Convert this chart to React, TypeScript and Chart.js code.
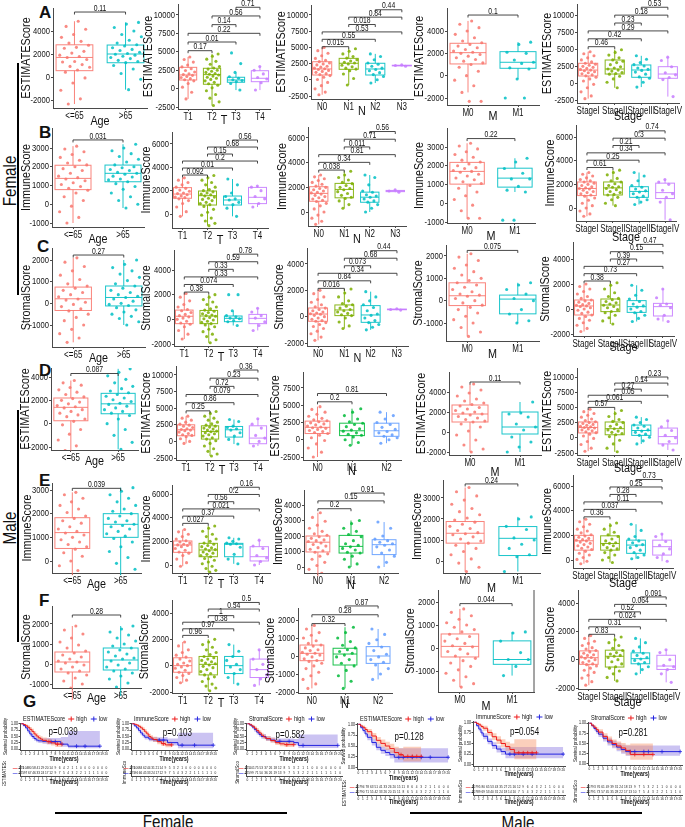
import React, { useEffect, useRef } from "react";
import { Chart, registerables } from "chart.js";

Chart.register(...registerables);

const FONT = "'Liberation Sans', Arial, sans-serif";
Chart.defaults.font.family = FONT;
const SX = 0.8; // horizontal text compression (narrow face look)
const INK = "#111111";
const AXIS = "#4a4a4a";

const RED = "#F8766D";
const TEAL = "#00BFC4";
const OLIVE = "#7CAE00";
const PURPLE = "#C77CFF";
const GREEN = "#00BA38";
const BLUE = "#619CFF";
const HI_C = "#EE1C1C";
const LO_C = "#2424E0";
const HI_BAND = "rgba(245,140,95,0.42)";
const LO_BAND = "rgba(118,96,222,0.38)";

// ---------------- categories / ticks ----------------
const AGE_CATS = ["<=65", ">65"];
const T_CATS = ["T1", "T2", "T3", "T4"];
const N4_CATS = ["N0", "N1", "N2", "N3"];
const N3_CATS = ["N0", "N1", "N2"];
const M_CATS = ["M0", "M1"];
const STAGE_CATS = ["StageI", "StageII", "StageIII", "StageIV"];

const PAIRS2 = [[0, 1]];
const PAIRS3 = [[0, 1], [0, 2], [1, 2]];
const PAIRS3D = [[0, 1], [0, 2]];
const PAIRS4 = [[0, 1], [0, 2], [0, 3], [1, 2], [1, 3], [2, 3]];

const TK_10K = [-2500, 0, 2500, 5000, 7500, 10000];
const TK_7500 = [-2500, 0, 2500, 5000, 7500];
const TK_4K = [-2000, 0, 2000, 4000];
const TK_3K = [-1000, 0, 1000, 2000, 3000];
const TK_6K = [0, 2000, 4000, 6000];
const TK_2K = [-1000, 0, 1000, 2000];
const TK_E3K = [0, 1000, 2000, 3000];
const TK_E4K = [0, 1000, 2000, 3000, 4000];
const TK_F2K = [-2000, -1000, 0, 1000, 2000];

// ---------------- Row A : Female ESTIMATEScore ----------------
const A_AGE = [
  [4850, 4400, 4150, 3700, 3450, 3100, 2950, 2760, 2580, 2500, 2230, 2080, 1900, 1780, 1690, 1520, 1350, 1300, 1080, 920, 850, 610, 420, -80, -520, -1150, -1900, -2350],
  [4750, 4600, 4300, 4000, 3700, 3500, 3200, 2950, 2800, 2700, 2550, 2400, 2300, 2150, 2050, 1980, 1900, 1800, 1700, 1600, 1450, 1350, 1250, 1000, 700, 300, -200, -1100],
];
const A_AGE_BOX = [[-2350, 550, 1700, 2800, 4850], [-1100, 1240, 2000, 2780, 4750]];
const A_AGE_P = ["0.11"];
const A_T = [
  [4300, 3950, 3600, 3200, 2950, 2700, 2450, 2250, 2000, 1900, 1800, 1650, 1500, 1350, 1200, 1050, 700, 200, -500, -1400],
  [4700, 4400, 4000, 3700, 3300, 3000, 2800, 2650, 2500, 2350, 2200, 2050, 1950, 1850, 1700, 1550, 1400, 1250, 1050, 850, 650, 450, 100, -300, -800, -1300, -1800, -2300],
  [4850, 3400, 2200, 1600, 1400, 1200, 1100, 950, 700, -200],
  [3000, 2500, 2000, 1500, 1300, 800, -200],
];
const A_T_BOX = [[-1400, 1170, 1850, 2890, 4300], [-2300, 590, 1900, 2760, 4700], [-200, 860, 1170, 1540, 2200], [-200, 940, 1400, 2430, 3000]];
const A_T_P = ["0.17", "0.01", "0.22", "0.14", "0.56", "0.71"];
const A_N = [
  [5000, 4500, 4100, 3700, 3300, 3000, 2800, 2600, 2450, 2300, 2100, 1950, 1800, 1700, 1600, 1450, 1300, 1150, 950, 800, 650, 400, 50, -400, -900, -1400, -1900, -2300],
  [4800, 4400, 4000, 3600, 3350, 3100, 2900, 2700, 2600, 2450, 2250, 2000, 1800, 1650, 1400, 900, 200, -800],
  [4000, 3600, 3100, 2600, 2400, 2100, 1800, 1600, 1400, 1100, 800, 500, 0, -500],
  [2300, 2200, 2100],
];
const A_N_BOX = [[-2300, 740, 1670, 2790, 5000], [-800, 1620, 2550, 3310, 4800], [-500, 740, 1670, 2550, 4000], [2100, 2150, 2200, 2250, 2300]];
const A_N_P = ["0.015", "0.55", "0.53", "0.018", "0.84", "0.44"];
const A_M = [
  [4900, 4600, 4300, 4000, 3700, 3400, 3100, 2950, 2800, 2650, 2500, 2350, 2200, 2100, 2000, 1900, 1750, 1600, 1450, 1300, 1150, 1000, 750, 400, 0, -400, -900, -1500, -2300, -2300],
  [3000, 2800, 2100, 2000, 1400, 1200, 1100, 700, 600, -300, -2000, -2000],
];
const A_M_BOX = [[-1500, 1050, 2060, 2900, 4900], [-300, 660, 1200, 2150, 3000]];
const A_M_P = ["0.1"];
const A_S = [
  [4600, 4300, 4000, 3700, 3400, 3100, 2900, 2750, 2600, 2450, 2300, 2150, 2000, 1900, 1800, 1650, 1500, 1350, 1200, 1050, 850, 600, 300, -200, -700, -1300, -1900, -2300],
  [4900, 4500, 4100, 3700, 3400, 3200, 3000, 2700, 2400, 2200, 2050, 1900, 1750, 1550, 1400, 1300, 1000, 600, 100, -700],
  [4000, 3500, 3000, 2700, 2500, 2200, 2000, 1850, 1600, 1300, 900, 700, 100, -600],
  [3800, 3300, 2400, 1500, 1200, 800, 500, -2000],
];
const A_S_BOX = [[-2300, 1030, 1900, 2900, 4600], [-700, 1320, 2060, 3380, 4900], [-600, 840, 1910, 2650, 4000], [-2000, 690, 1320, 2400, 3800]];
const A_S_P = ["0.46", "0.42", "0.29", "0.23", "0.18", "0.53"];

// ---------------- Row B : Female ImmuneScore ----------------
const B_AGE = [
  [3100, 2950, 2800, 2650, 2500, 2350, 2200, 2100, 2000, 1900, 1800, 1650, 1500, 1420, 1350, 1250, 1150, 1050, 950, 850, 750, 600, 400, 200, -100, -400, -700, -1000],
  [3200, 3000, 2850, 2700, 2550, 2400, 2250, 2100, 2000, 1950, 1850, 1800, 1700, 1650, 1600, 1500, 1450, 1350, 1300, 1200, 1100, 950, 800, 600, 400, 200, 0, -200],
];
const B_AGE_BOX = [[-1000, 780, 1380, 2080, 3100], [-200, 1200, 1650, 2090, 3200]];
const B_AGE_P = ["0.031"];
const B_T = [
  [3100, 2900, 2700, 2500, 2300, 2200, 2050, 1950, 1800, 1750, 1650, 1550, 1450, 1400, 1300, 1150, 900, 600, 200, -200],
  [3300, 3100, 2900, 2700, 2500, 2300, 2100, 2000, 1900, 1800, 1700, 1650, 1550, 1450, 1350, 1250, 1150, 1000, 900, 800, 650, 400, 150, -100, -350, -600, -800, -1000],
  [3000, 2500, 1800, 1500, 1300, 1200, 1000, 800, 500, -200],
  [2400, 2300, 2000, 1500, 1300, 900, 600],
];
const B_T_BOX = [[-200, 1350, 1710, 2260, 3100], [-1000, 770, 1570, 1970, 3300], [-200, 770, 1200, 1540, 3000], [600, 890, 1430, 2280, 2400]];
const B_T_P = ["0.092", "0.01", "0.2", "0.15", "0.68", "0.56"];
const B_N = [
  [3000, 2850, 2700, 2550, 2400, 2250, 2100, 2000, 1900, 1800, 1700, 1600, 1550, 1450, 1350, 1250, 1150, 1050, 950, 850, 700, 500, 250, 0, -250, -500, -750, -1000],
  [3300, 3000, 2800, 2600, 2400, 2300, 2150, 2000, 1900, 1800, 1650, 1500, 1350, 1200, 1100, 900, 600, 300],
  [3000, 2800, 2200, 1700, 1600, 1400, 1300, 1200, 1050, 900, 800, 600, 300, 0],
  [1800, 1700, 1600],
];
const B_N_BOX = [[-1000, 870, 1510, 2050, 3000], [300, 1150, 1830, 2320, 3300], [0, 790, 1200, 1610, 3000], [1600, 1650, 1700, 1750, 1800]];
const B_N_P = ["0.038", "0.34", "0.81", "0.011", "0.71", "0.56"];
const B_M = [
  [3200, 3050, 2900, 2750, 2600, 2450, 2300, 2200, 2100, 2000, 1900, 1850, 1750, 1700, 1650, 1550, 1450, 1350, 1250, 1150, 1050, 950, 800, 600, 400, 200, -100, -400, -800, -800],
  [2400, 2200, 1850, 1600, 1300, 1300, 900, 700, 600, -900, -900],
];
const B_M_BOX = [[-800, 1020, 1700, 2180, 3200], [600, 860, 1340, 1870, 2400]];
const B_M_P = ["0.22"];
const B_S = [
  [3000, 2850, 2700, 2550, 2400, 2300, 2200, 2100, 2000, 1900, 1800, 1700, 1650, 1600, 1500, 1400, 1300, 1200, 1100, 1000, 850, 650, 400, 200, 0, -250, -500, -700],
  [3200, 3000, 2800, 2500, 2300, 2200, 2050, 1900, 1800, 1750, 1650, 1550, 1400, 1300, 1150, 1100, 900, 700, 400, 200],
  [3000, 2700, 2300, 1900, 1750, 1600, 1450, 1350, 1200, 1000, 900, 700, 500, 300],
  [2400, 2200, 2000, 1500, 1200, 900, 500, -1000],
];
const B_S_BOX = [[-700, 1050, 1650, 2200, 3000], [200, 1100, 1700, 2200, 3200], [300, 900, 1400, 1800, 3000], [-1000, 800, 1300, 2100, 2400]];
const B_S_P = ["0.61", "0.25", "0.34", "0.21", "0.3", "0.74"];

// ---------------- Row C : Female StromalScore ----------------
const C_AGE = [
  [2100, 1900, 1700, 1500, 1300, 1100, 900, 800, 700, 600, 500, 400, 300, 200, 150, 50, -50, -150, -250, -350, -500, -650, -800, -1000, -1200, -1400, -1600, -1800],
  [2000, 1800, 1650, 1500, 1350, 1200, 1050, 900, 800, 700, 600, 500, 400, 330, 270, 200, 100, 0, -50, -100, -200, -300, -400, -500, -600, -700, -850, -1000],
];
const C_AGE_BOX = [[-1800, -330, 210, 750, 2100], [-1000, -120, 270, 800, 2000]];
const C_AGE_P = ["0.27"];
const C_T = [
  [2100, 1800, 1500, 1200, 1000, 800, 700, 550, 400, 300, 200, 100, 0, -150, -300, -400, -600, -900, -1200, -1600],
  [2000, 1800, 1600, 1400, 1200, 1000, 850, 750, 650, 550, 450, 350, 300, 250, 150, 50, -50, -150, -250, -350, -450, -600, -800, -1000, -1200, -1400, -1650, -1900],
  [2000, 2000, 700, 300, 200, 100, 50, -100, -200, -500],
  [900, 600, 300, 100, -200, -500, -900],
];
const C_T_BOX = [[-1600, -350, 250, 750, 2100], [-1900, -350, 270, 720, 2000], [-500, -190, 80, 270, 700], [-900, -350, 80, 400, 900]];
const C_T_P = ["0.38", "0.074", "0.33", "0.33", "0.59", "0.78"];
const C_N = [
  [2000, 1750, 1500, 1300, 1100, 900, 750, 650, 550, 450, 350, 280, 220, 180, 100, 0, -100, -200, -300, -350, -450, -600, -750, -900, -1100, -1300, -1550, -1800],
  [2100, 1800, 1500, 1200, 1000, 900, 800, 650, 550, 450, 350, 250, 150, 80, -100, -400, -700, -900],
  [1900, 1500, 1200, 900, 700, 450, 200, 100, -100, -300, -450, -600, -800, -1000],
  [600, 550, 500],
];
const C_N_BOX = [[-1800, -350, 200, 660, 2000], [-900, 80, 510, 890, 2100], [-1000, -430, 130, 840, 1900], [500, 525, 550, 575, 600]];
const C_N_P = ["0.016", "0.84", "0.34", "0.073", "0.68", "0.44"];
const C_M = [
  [2100, 1950, 1800, 1600, 1450, 1300, 1150, 1000, 900, 800, 700, 600, 500, 400, 300, 250, 200, 100, 0, -100, -200, -300, -400, -550, -700, -850, -1000, -1200, -1400, -1600],
  [800, 700, 500, 300, 100, 0, -400, -600, -900, -1000],
];
const C_M_BOX = [[-1600, -220, 220, 800, 2100], [-1000, -590, 70, 250, 800]];
const C_M_P = ["0.075"];
const C_S = [
  [2000, 1800, 1600, 1400, 1200, 1000, 850, 720, 650, 550, 450, 350, 300, 250, 200, 100, 0, -100, -250, -350, -480, -600, -750, -900, -1100, -1300, -1550, -1800],
  [2100, 1900, 1600, 1300, 1000, 850, 750, 600, 500, 400, 300, 200, 100, -50, -200, -300, -500, -700, -950, -1200],
  [1900, 1500, 1100, 800, 600, 400, 250, 150, 0, -200, -300, -500, -750, -1000],
  [1600, 900, 400, 300, 100, -500, -800, -1000],
];
const C_S_BOX = [[-1800, -480, 240, 720, 2000], [-1200, -210, 320, 800, 2100], [-1000, -270, 190, 670, 1900], [-1000, -560, 190, 450, 1600]];
const C_S_P = ["0.38", "0.73", "0.27", "0.39", "0.15", "0.47"];

// ---------------- Row D : Male ESTIMATEScore ----------------
const D_AGE = [
  [3700, 3500, 3300, 3100, 2900, 2700, 2500, 2300, 2150, 2000, 1850, 1700, 1550, 1450, 1350, 1200, 1050, 900, 750, 600, 400, 200, -100, -500, -900, -1400, -1900, -2300],
  [4700, 4400, 4100, 3800, 3500, 3200, 3000, 2800, 2650, 2500, 2350, 2200, 2050, 1900, 1750, 1650, 1500, 1350, 1200, 1050, 900, 700, 400, 0, -500, -1000, -1600, -2200],
];
const D_AGE_BOX = [[-2300, 250, 1400, 2200, 3700], [-2200, 850, 1700, 2600, 4700]];
const D_AGE_P = ["0.087"];
const D_T = [
  [3800, 3500, 3200, 2900, 2600, 2450, 2300, 2100, 1900, 1800, 1700, 1600, 1400, 1200, 1000, 900, 700, 400, 0, -300],
  [4500, 4200, 3800, 3500, 3200, 2900, 2650, 2450, 2300, 2150, 2000, 1850, 1700, 1550, 1450, 1300, 1150, 1000, 800, 550, 350, 100, -300, -700, -1100, -1500, -1900, -2200],
  [3300, 3000, 2300, 2100, 1900, 1700, 1300, 800, 300, -400],
  [3400, 2600, 2000, 900, 500, 0, -700],
];
const D_T_BOX = [[-300, 850, 1750, 2500, 3800], [-2200, 350, 1500, 2350, 4500], [-400, 650, 1750, 2250, 3300], [-700, -350, 500, 2350, 3400]];
const D_T_P = ["0.25", "0.86", "0.079", "0.72", "0.23", "0.36"];
const D_N = [
  [4800, 4400, 4000, 3700, 3400, 3100, 2900, 2750, 2600, 2450, 2300, 2150, 2000, 1850, 1750, 1650, 1500, 1350, 1200, 1050, 900, 650, 300, -100, -600, -1200, -1800, -2500],
  [4500, 4000, 3500, 3000, 2600, 2400, 2200, 1900, 1600, 1400, 1250, 1000, 800, 650, 400, 0, -400, -800],
  [4000, 3500, 3000, 2500, 2200, 1800, 1500, 1200, 1000, 700, 500, 300, 0, -500],
];
const D_N_BOX = [[-2500, 900, 1800, 2700, 4800], [-800, 600, 1300, 2400, 4500], [-500, 500, 1300, 2400, 4000]];
const D_N_P = ["0.2", "0.81"];
const D_M = [
  [4800, 4500, 4200, 3900, 3600, 3300, 3100, 2900, 2750, 2600, 2450, 2300, 2150, 2000, 1900, 1800, 1700, 1550, 1400, 1250, 1100, 1000, 800, 500, 100, -300, -800, -1300, -1700, -2000],
  [3000, 1900, 1800, 1500, 800, 500, 200, -500, -1000, -1500, -2000],
];
const D_M_BOX = [[-2000, 1000, 1800, 2700, 4800], [-2000, -200, 500, 2000, 3000]];
const D_M_P = ["0.11"];
const D_S = [
  [4700, 4300, 4000, 3700, 3400, 3100, 2850, 2650, 2500, 2350, 2200, 2050, 1900, 1800, 1700, 1600, 1450, 1300, 1150, 1000, 850, 600, 300, -100, -600, -1100, -1700, -2200],
  [4500, 4000, 3500, 3000, 2700, 2500, 2200, 1900, 1700, 1500, 1300, 1100, 900, 700, 500, 200, -400, -1000, -1700, -2300],
  [3400, 3000, 2500, 2100, 1900, 1600, 1300, 1100, 900, 600, 400, 100, -500, -1000],
  [2800, 1800, 1200, 400, 0, -600, -1200, -2000],
];
const D_S_BOX = [[-2200, 800, 1700, 2600, 4700], [-2300, 500, 1500, 2600, 4500], [-1000, 400, 1200, 2100, 3400], [-2000, -1000, 200, 1600, 2800]];
const D_S_P = ["0.57", "0.061", "0.05", "0.27", "0.14", "0.23"];

// ---------------- Row E : Male ImmuneScore ----------------
const E_AGE = [
  [2900, 2800, 2650, 2500, 2350, 2200, 2050, 1900, 1800, 1700, 1600, 1450, 1350, 1250, 1180, 1100, 1000, 900, 800, 700, 600, 500, 350, 200, 0, -200, -400, -600],
  [3100, 2950, 2800, 2650, 2500, 2350, 2200, 2100, 2000, 1900, 1800, 1700, 1650, 1550, 1500, 1450, 1350, 1250, 1150, 1050, 950, 800, 600, 400, 150, -100, -350, -600],
];
const E_AGE_BOX = [[-600, 530, 1200, 1830, 2900], [-600, 1000, 1550, 2000, 3100]];
const E_AGE_P = ["0.039"];
const E_T = [
  [3000, 2800, 2600, 2400, 2200, 2050, 1950, 1850, 1750, 1700, 1650, 1550, 1400, 1250, 1100, 1000, 800, 500, 200, -100],
  [3300, 3100, 2850, 2600, 2400, 2200, 2000, 1850, 1750, 1650, 1550, 1450, 1350, 1300, 1200, 1100, 1000, 900, 800, 700, 550, 400, 250, 100, -100, -300, -450, -600],
  [2300, 2200, 2000, 1850, 1800, 1750, 1500, 900, 500, 100],
  [2100, 1600, 1400, 800, 600, 300, 0],
];
const E_T_BOX = [[-100, 1070, 1690, 2030, 3000], [-600, 700, 1270, 1830, 3300], [100, 700, 1750, 1830, 2300], [0, 340, 700, 1550, 2100]];
const E_T_P = ["0.027", "0.37", "0.021", "0.56", "0.2", "0.16"];
const E_N = [
  [3500, 3200, 2950, 2700, 2500, 2300, 2150, 2050, 1950, 1850, 1750, 1700, 1650, 1550, 1450, 1350, 1250, 1150, 1050, 950, 850, 700, 500, 300, 100, -150, -400, -600],
  [3000, 2800, 2500, 2300, 2100, 1950, 1700, 1500, 1400, 1300, 1200, 1100, 950, 900, 700, 500, 200, 0],
  [2900, 2500, 2000, 1800, 1700, 1600, 1500, 1400, 1300, 1100, 900, 700, 300, 0],
];
const E_N_BOX = [[-600, 970, 1600, 2000, 3500], [0, 900, 1330, 2040, 3000], [0, 800, 1440, 1760, 2900]];
const E_N_P = ["0.2", "0.15", "0.91"];
const E_M = [
  [3500, 3300, 3100, 2900, 2700, 2500, 2350, 2200, 2050, 1950, 1850, 1750, 1650, 1550, 1450, 1350, 1300, 1250, 1150, 1050, 950, 850, 750, 600, 450, 300, 100, -100, -300, -500],
  [2100, 2000, 1650, 1500, 1100, 1000, 800, 600, 300, 200, -500],
];
const E_M_BOX = [[-500, 850, 1320, 1880, 3500], [-500, 260, 1080, 1640, 2100]];
const E_M_P = ["0.24"];
const E_S = [
  [3300, 3100, 2900, 2700, 2500, 2350, 2200, 2050, 1950, 1850, 1750, 1650, 1600, 1550, 1450, 1350, 1250, 1150, 1050, 950, 850, 700, 550, 400, 200, 50, -100, -300],
  [3000, 2800, 2500, 2250, 2050, 1900, 1700, 1550, 1400, 1350, 1250, 1150, 1000, 900, 800, 600, 400, 200, 0, -200],
  [2900, 2400, 1900, 1700, 1550, 1400, 1250, 1150, 1000, 800, 600, 400, 200, 100],
  [2100, 1900, 1500, 1200, 900, 500, 200, -100],
];
const E_S_BOX = [[-300, 800, 1560, 2000, 3300], [-200, 800, 1340, 1960, 3000], [100, 540, 1210, 1610, 2900], [-100, 400, 1080, 1610, 2100]];
const E_S_P = ["0.36", "0.037", "0.11", "0.28", "0.25", "0.73"];

// ---------------- Row F : Male StromalScore ----------------
const F_AGE = [
  [1900, 1700, 1500, 1300, 1100, 950, 800, 650, 550, 450, 350, 250, 150, 100, 50, -50, -150, -250, -350, -450, -550, -700, -850, -1000, -1200, -1400, -1600, -1800],
  [1900, 1750, 1600, 1450, 1300, 1150, 1000, 900, 800, 700, 600, 500, 400, 300, 250, 150, 50, -50, -150, -250, -350, -450, -600, -750, -950, -1150, -1400, -1600],
];
const F_AGE_BOX = [[-1800, -400, 100, 600, 1900], [-1600, -300, 200, 800, 1900]];
const F_AGE_P = ["0.28"];
const F_T = [
  [1800, 1500, 1200, 1000, 800, 650, 500, 350, 200, 100, 0, -100, -200, -350, -500, -600, -750, -900, -1100, -1300],
  [2000, 1800, 1600, 1400, 1200, 1000, 850, 700, 600, 500, 400, 300, 200, 150, 50, -50, -150, -300, -450, -600, -700, -850, -1000, -1200, -1400, -1550, -1700, -1900],
  [1600, 1100, 700, 400, 100, -100, -300, -600, -900, -1400],
  [1200, 500, 100, -300, -700, -1000, -1500],
];
const F_T_BOX = [[-1300, -500, 0, 600, 1800], [-1900, -700, 100, 700, 2000], [-1400, -600, 0, 700, 1600], [-1500, -900, -300, 500, 1200]];
const F_T_P = ["0.96", "0.97", "0.38", "1", "0.34", "0.5"];
const F_N = [
  [1700, 1500, 1300, 1150, 1000, 850, 700, 610, 550, 450, 350, 300, 200, 150, 100, 50, -50, -150, -250, -300, -400, -550, -700, -900, -1100, -1300, -1550, -1800],
  [1600, 1300, 1000, 800, 600, 450, 350, 250, 150, 50, -50, -200, -400, -550, -800, -1100, -1400, -1800],
  [1500, 1200, 900, 700, 500, 300, 100, -50, -200, -350, -500, -700, -1000, -1300],
];
const F_N_BOX = [[-1800, -260, 150, 610, 1700], [-1800, -500, 110, 430, 1600], [-1300, -410, 0, 520, 1500]];
const F_N_P = ["0.32", "0.28", "0.87"];
const F_M = [
  [1700, 1550, 1400, 1250, 1100, 1000, 900, 800, 700, 600, 500, 400, 300, 200, 100, 50, -50, -150, -250, -350, -450, -550, -650, -800, -950, -1100, -1250, -1400, -1550, -1700],
  [700, 650, 300, -200, -500, -500, -800, -1200],
];
const F_M_BOX = [[-1700, -390, 70, 610, 1700], [-1200, -710, -500, 310, 700]];
const F_M_P = ["0.044"];
const F_S = [
  [1700, 1500, 1300, 1150, 1000, 850, 750, 650, 550, 450, 350, 300, 200, 150, 100, 0, -100, -200, -300, -350, -450, -600, -750, -900, -1100, -1300, -1550, -1800],
  [1600, 1400, 1200, 1000, 800, 650, 500, 400, 300, 250, 150, 0, -150, -300, -500, -600, -800, -1000, -1250, -1500],
  [1500, 1200, 900, 600, 450, 300, 150, 50, -50, -200, -300, -500, -700, -1000],
  [700, 500, 0, -400, -500, -700, -1000, -1600],
];
const F_S_BOX = [[-1800, -330, 140, 620, 1700], [-1500, -520, 240, 670, 1600], [-1000, -290, 70, 480, 1500], [-1600, -690, -450, 310, 700]];
const F_S_P = ["0.83", "0.31", "0.024", "0.52", "0.064", "0.091"];

// ---------------- Survival (G) ----------------
const KM_F_EST_HIGH = { t: [0, 0.5, 1, 1.5, 2, 2.5, 3, 3.5, 4, 4.5, 5, 6, 7, 8, 9.6], s: [1, 0.97, 0.92, 0.86, 0.78, 0.7, 0.6, 0.52, 0.45, 0.4, 0.35, 0.3, 0.25, 0.2, 0.2], lo: [1, 0.93, 0.86, 0.78, 0.69, 0.6, 0.5, 0.42, 0.35, 0.3, 0.25, 0.2, 0.15, 0.09, 0.09], up: [1, 1, 0.98, 0.94, 0.87, 0.8, 0.71, 0.63, 0.56, 0.51, 0.46, 0.42, 0.38, 0.35, 0.35], cens: [6.5, 8.5, 9.6] };
const KM_F_EST_LOW = { t: [0, 0.5, 1, 1.5, 2, 2.5, 3, 3.5, 4, 5, 6, 9.3, 11, 18.5], s: [1, 0.93, 0.84, 0.72, 0.6, 0.5, 0.42, 0.36, 0.33, 0.31, 0.3, 0.2, 0.12, 0.12], lo: [1, 0.88, 0.77, 0.64, 0.51, 0.41, 0.33, 0.27, 0.24, 0.22, 0.2, 0.1, 0.04, 0.04], up: [1, 0.98, 0.92, 0.81, 0.7, 0.6, 0.53, 0.47, 0.45, 0.43, 0.44, 0.48, 0.72, 0.72], cens: [7, 8, 13, 15, 18.5] };
const KM_F_IMM_HIGH = { t: [0, 0.5, 1, 1.5, 2, 2.5, 3, 3.5, 4, 4.5, 5, 6, 7, 8, 9.5], s: [1, 0.98, 0.95, 0.9, 0.84, 0.77, 0.68, 0.6, 0.5, 0.44, 0.38, 0.3, 0.22, 0.17, 0.17], lo: [1, 0.95, 0.9, 0.83, 0.76, 0.68, 0.58, 0.5, 0.4, 0.34, 0.28, 0.2, 0.13, 0.08, 0.08], up: [1, 1, 0.99, 0.96, 0.92, 0.86, 0.78, 0.7, 0.61, 0.55, 0.49, 0.42, 0.35, 0.3, 0.3], cens: [7.5, 9.5] };
const KM_F_IMM_LOW = { t: [0, 0.5, 1, 1.5, 2, 2.5, 3, 4, 5, 6, 8, 8.5, 11, 19.5], s: [1, 0.92, 0.84, 0.74, 0.64, 0.55, 0.47, 0.4, 0.37, 0.36, 0.36, 0.26, 0.16, 0.16], lo: [1, 0.87, 0.77, 0.66, 0.55, 0.46, 0.38, 0.31, 0.28, 0.26, 0.25, 0.15, 0.04, 0.04], up: [1, 0.97, 0.91, 0.83, 0.74, 0.65, 0.57, 0.5, 0.48, 0.47, 0.48, 0.42, 0.65, 0.65], cens: [6.5, 7.5, 12, 15, 19.5] };
const KM_F_STR_HIGH = { t: [0, 0.5, 1, 1.5, 2, 2.5, 3, 3.5, 4, 5, 6, 7, 8, 10], s: [1, 0.96, 0.9, 0.82, 0.73, 0.64, 0.55, 0.48, 0.42, 0.34, 0.26, 0.21, 0.18, 0.18], lo: [1, 0.92, 0.84, 0.75, 0.65, 0.55, 0.46, 0.39, 0.33, 0.25, 0.17, 0.12, 0.09, 0.09], up: [1, 1, 0.96, 0.9, 0.82, 0.74, 0.65, 0.58, 0.52, 0.45, 0.37, 0.33, 0.3, 0.3], cens: [8.5, 10] };
const KM_F_STR_LOW = { t: [0, 0.5, 1, 1.5, 2, 2.5, 3, 4, 5, 6, 10, 11, 19.5], s: [1, 0.95, 0.87, 0.77, 0.67, 0.58, 0.5, 0.41, 0.36, 0.31, 0.26, 0.15, 0.15], lo: [1, 0.9, 0.8, 0.69, 0.58, 0.49, 0.41, 0.32, 0.27, 0.22, 0.16, 0.05, 0.05], up: [1, 1, 0.94, 0.85, 0.76, 0.68, 0.6, 0.51, 0.46, 0.42, 0.4, 0.58, 0.58], cens: [7, 9, 12, 19.5] };
const KM_M_EST_HIGH = { t: [0, 0.5, 1, 1.5, 2, 3, 4, 5, 6, 7, 8, 9, 10, 14], s: [1, 0.96, 0.93, 0.88, 0.83, 0.73, 0.63, 0.56, 0.5, 0.44, 0.35, 0.3, 0.26, 0.26], lo: [1, 0.93, 0.89, 0.83, 0.77, 0.66, 0.55, 0.47, 0.41, 0.34, 0.25, 0.19, 0.14, 0.14], up: [1, 0.99, 0.97, 0.93, 0.89, 0.8, 0.71, 0.65, 0.6, 0.55, 0.48, 0.45, 0.48, 0.48], cens: [9.5, 11, 12, 13, 14] };
const KM_M_EST_LOW = { t: [0, 0.5, 1, 1.5, 2, 3, 4, 5, 6, 7, 8, 20], s: [1, 0.93, 0.86, 0.78, 0.7, 0.58, 0.47, 0.4, 0.35, 0.3, 0.24, 0.24], lo: [1, 0.89, 0.81, 0.72, 0.63, 0.51, 0.4, 0.32, 0.27, 0.21, 0.12, 0.12], up: [1, 0.97, 0.91, 0.84, 0.77, 0.66, 0.55, 0.48, 0.44, 0.4, 0.45, 0.45], cens: [9, 10, 12, 14, 16, 20] };
const KM_M_IMM_HIGH = { t: [0, 0.5, 1, 1.5, 2, 3, 4, 5, 6, 7, 8, 9, 14], s: [1, 0.97, 0.94, 0.9, 0.86, 0.76, 0.66, 0.58, 0.5, 0.43, 0.36, 0.28, 0.28], lo: [1, 0.94, 0.9, 0.85, 0.8, 0.69, 0.58, 0.49, 0.41, 0.33, 0.25, 0.13, 0.13], up: [1, 1, 0.98, 0.95, 0.92, 0.83, 0.74, 0.67, 0.6, 0.54, 0.5, 0.6, 0.6], cens: [10, 11, 12, 13, 14] };
const KM_M_IMM_LOW = { t: [0, 0.5, 1, 1.5, 2, 3, 4, 5, 6, 7, 20], s: [1, 0.92, 0.84, 0.75, 0.67, 0.55, 0.45, 0.37, 0.31, 0.25, 0.25], lo: [1, 0.88, 0.79, 0.69, 0.6, 0.48, 0.37, 0.29, 0.23, 0.15, 0.15], up: [1, 0.96, 0.89, 0.81, 0.74, 0.62, 0.53, 0.45, 0.4, 0.42, 0.42], cens: [8, 9, 11, 13, 20] };
const KM_M_STR_HIGH = { t: [0, 0.5, 1, 1.5, 2, 3, 4, 5, 6, 7, 8, 9, 14], s: [1, 0.95, 0.9, 0.84, 0.78, 0.67, 0.58, 0.5, 0.44, 0.39, 0.33, 0.23, 0.23], lo: [1, 0.92, 0.85, 0.78, 0.71, 0.59, 0.49, 0.41, 0.34, 0.28, 0.21, 0.1, 0.1], up: [1, 0.98, 0.95, 0.9, 0.85, 0.75, 0.67, 0.6, 0.55, 0.51, 0.47, 0.5, 0.5], cens: [10, 12, 14] };
const KM_M_STR_LOW = { t: [0, 0.5, 1, 1.5, 2, 3, 4, 5, 6, 7, 8, 20], s: [1, 0.94, 0.87, 0.8, 0.73, 0.63, 0.54, 0.47, 0.41, 0.35, 0.3, 0.3], lo: [1, 0.9, 0.82, 0.74, 0.66, 0.55, 0.45, 0.38, 0.31, 0.25, 0.2, 0.2], up: [1, 0.98, 0.92, 0.86, 0.8, 0.71, 0.63, 0.57, 0.52, 0.47, 0.45, 0.45], cens: [9, 10, 12, 13, 16, 20] };

const RT_YEARS = [0, 1, 2, 3, 4, 5, 6, 7, 8, 9, 10, 11, 12, 13, 14, 15, 16, 17, 18, 19, 20];
const RT_F_EST_HIGH = [125, 104, 80, 58, 41, 29, 20, 14, 9, 6, 4, 2, 1, 1, 0, 0, 0, 0, 0, 0, 0];
const RT_F_EST_LOW = [125, 97, 67, 46, 33, 24, 17, 12, 9, 7, 5, 4, 3, 2, 2, 1, 1, 1, 1, 0, 0];
const RT_F_IMM_HIGH = [125, 106, 84, 62, 44, 31, 21, 14, 9, 5, 3, 2, 1, 0, 0, 0, 0, 0, 0, 0, 0];
const RT_F_IMM_LOW = [125, 96, 66, 45, 33, 24, 17, 12, 9, 7, 5, 4, 3, 2, 2, 1, 1, 1, 1, 1, 0];
const RT_F_STR_HIGH = [125, 101, 75, 53, 37, 26, 18, 12, 8, 5, 3, 2, 1, 1, 0, 0, 0, 0, 0, 0, 0];
const RT_F_STR_LOW = [125, 99, 71, 50, 36, 26, 19, 13, 9, 7, 5, 3, 2, 2, 1, 1, 1, 1, 1, 1, 0];
const RT_M_EST_HIGH = [107, 94, 78, 63, 51, 41, 33, 26, 20, 15, 11, 8, 6, 4, 3, 2, 1, 1, 0, 0, 0];
const RT_M_EST_LOW = [107, 90, 71, 55, 42, 33, 26, 20, 15, 11, 8, 6, 5, 4, 3, 2, 2, 1, 1, 1, 0];
const RT_M_IMM_HIGH = [107, 95, 80, 65, 53, 43, 35, 27, 21, 16, 12, 9, 6, 4, 3, 2, 1, 1, 0, 0, 0];
const RT_M_IMM_LOW = [107, 89, 69, 53, 40, 31, 24, 18, 14, 10, 7, 5, 4, 3, 2, 2, 1, 1, 1, 1, 0];
const RT_M_STR_HIGH = [107, 93, 76, 61, 49, 39, 31, 24, 18, 13, 9, 7, 5, 3, 2, 1, 1, 0, 0, 0, 0];
const RT_M_STR_LOW = [107, 91, 73, 57, 45, 35, 28, 22, 17, 13, 10, 7, 5, 4, 3, 2, 2, 1, 1, 1, 0];

// ---------------- panel layout (page px) ----------------
const C4 = [RED, OLIVE, TEAL, PURPLE];
const C2 = [RED, TEAL];
const CN3 = [RED, GREEN, BLUE];

const PANELS: any[] = [
  // Row A
  { geo: [53, 147, 8, 108], cal: [4000, 31, -2000, 100], ticks: TK_4K, cats: AGE_CATS, colors: C2, pts: A_AGE, box: A_AGE_BOX, pairs: PAIRS2, p: A_AGE_P, br: [5650, 0], yTitle: "ESTIMATEScore", xTitle: "Age", tc: 26, xt: 121 },
  { geo: [178, 270, 4, 109], cal: [10000, 15, -2500, 107], ticks: TK_10K, cats: T_CATS, colors: C4, pts: A_T, box: A_T_BOX, pairs: PAIRS4, p: A_T_P, br: [5150, 1180], yTitle: "ESTIMATEScore", xTitle: "T", tc: 148, xt: 120 },
  { geo: [311, 413, 5, 99], cal: [10000, 15, -2500, 96], ticks: TK_10K, cats: N4_CATS, colors: C4, pts: A_N, box: A_N_BOX, pairs: PAIRS4, p: A_N_P, br: [5110, 1140], yTitle: "ESTIMATEScore", xTitle: "N", tc: 281, xt: 111 },
  { geo: [447, 539, 8, 105], cal: [4000, 31, -2000, 98], ticks: TK_4K, cats: M_CATS, colors: C2, pts: A_M, box: A_M_BOX, pairs: PAIRS2, p: A_M_P, br: [5430, 0], yTitle: "ESTIMATEScore", xTitle: "M", tc: 419, xt: 116 },
  { geo: [577, 679, 4, 103], cal: [10000, 15, -2500, 100], ticks: TK_10K, cats: STAGE_CATS, colors: C4, pts: A_S, box: A_S_BOX, pairs: PAIRS4, p: A_S_P, br: [5340, 1160], yTitle: "ESTIMATEScore", xTitle: "Stage", tc: 547, xt: 116 },
  // Row B
  { geo: [52, 144, 128, 227], cal: [3000, 148, -1000, 223], ticks: TK_3K, cats: AGE_CATS, colors: C2, pts: B_AGE, box: B_AGE_BOX, pairs: PAIRS2, p: B_AGE_P, br: [3430, 0], yTitle: "ImmuneScore", xTitle: "Age", tc: 26, xt: 239 },
  { geo: [172, 268, 132, 228], cal: [6000, 144, 0, 214], ticks: TK_6K, cats: T_CATS, colors: C4, pts: B_T, box: B_T_BOX, pairs: PAIRS4, p: B_T_P, br: [3340, 600], yTitle: "ImmuneScore", xTitle: "T", tc: 146, xt: 240 },
  { geo: [308, 406, 127, 226], cal: [6000, 138, 0, 212], ticks: TK_6K, cats: N4_CATS, colors: C4, pts: B_N, box: B_N_BOX, pairs: PAIRS4, p: B_N_P, br: [3400, 625], yTitle: "ImmuneScore", xTitle: "N", tc: 282, xt: 239 },
  { geo: [447, 535, 128, 223], cal: [3000, 147, -1000, 222], ticks: TK_3K, cats: M_CATS, colors: C2, pts: B_M, box: B_M_BOX, pairs: PAIRS2, p: B_M_P, br: [3450, 0], yTitle: "ImmuneScore", xTitle: "M", tc: 419, xt: 236 },
  { geo: [576, 676, 125, 221], cal: [6000, 137, 0, 208], ticks: TK_6K, cats: STAGE_CATS, colors: C4, pts: B_S, box: B_S_BOX, pairs: PAIRS4, p: B_S_P, br: [3420, 620], yTitle: "ImmuneScore", xTitle: "Stage", tc: 550, xt: 237 },
  // Row C
  { geo: [52, 145, 248, 347], cal: [2000, 260, -1000, 325], ticks: TK_2K, cats: AGE_CATS, colors: C2, pts: C_AGE, box: C_AGE_BOX, pairs: PAIRS2, p: C_AGE_P, br: [2230, 0], yTitle: "StromalScore", xTitle: "Age", tc: 26, xt: 358 },
  { geo: [174, 268, 250, 346], cal: [4000, 270, -2000, 344], ticks: TK_4K, cats: T_CATS, colors: C4, pts: C_T, box: C_T_BOX, pairs: PAIRS4, p: C_T_P, br: [2210, 615], yTitle: "StromalScore", xTitle: "T", tc: 146, xt: 357 },
  { geo: [307, 408, 248, 346], cal: [4000, 264, -2000, 343], ticks: TK_4K, cats: N4_CATS, colors: C4, pts: C_N, box: C_N_BOX, pairs: PAIRS4, p: C_N_P, br: [2150, 572], yTitle: "StromalScore", xTitle: "N", tc: 279, xt: 358 },
  { geo: [446, 539, 245, 341], cal: [2000, 256, -1000, 323], ticks: TK_2K, cats: M_CATS, colors: C2, pts: C_M, box: C_M_BOX, pairs: PAIRS2, p: C_M_P, br: [2250, 0], yTitle: "StromalScore", xTitle: "M", tc: 418, xt: 354 },
  { geo: [573, 674, 242, 336], cal: [4000, 259, -2000, 334], ticks: TK_4K, cats: STAGE_CATS, colors: C4, pts: C_S, box: C_S_BOX, pairs: PAIRS4, p: C_S_P, br: [2240, 586], yTitle: "StromalScore", xTitle: "Stage", tc: 545, xt: 347 },
  // Row D
  { geo: [51, 138, 368, 450], cal: [4000, 377, -2000, 447], ticks: TK_4K, cats: AGE_CATS, colors: C2, pts: D_AGE, box: D_AGE_BOX, pairs: PAIRS2, p: D_AGE_P, br: [4300, 0], yTitle: "ESTIMATEScore", xTitle: "Age", tc: 25, xt: 461 },
  { geo: [176, 268, 366, 460], cal: [10000, 375, -2500, 458], ticks: TK_10K, cats: T_CATS, colors: C4, pts: D_T, box: D_T_BOX, pairs: PAIRS4, p: D_T_P, br: [4600, 1230], yTitle: "ESTIMATEScore", xTitle: "T", tc: 146, xt: 470 },
  { geo: [303, 401, 372, 460], cal: [7500, 388, -2500, 457], ticks: TK_7500, cats: N3_CATS, colors: CN3, pts: D_N, box: D_N_BOX, pairs: PAIRS3D, p: D_N_P, br: [5500, 1200], yTitle: "ESTIMATEScore", xTitle: "N", tc: 275, xt: 471 },
  { geo: [449, 541, 372, 455], cal: [4000, 392, -2000, 452], ticks: TK_4K, cats: M_CATS, colors: C2, pts: D_M, box: D_M_BOX, pairs: PAIRS2, p: D_M_P, br: [5000, 0], yTitle: "ESTIMATEScore", xTitle: "M", tc: 421, xt: 472 },
  { geo: [577, 679, 368, 455], cal: [10000, 377, -2500, 453], ticks: TK_10K, cats: STAGE_CATS, colors: C4, pts: D_S, box: D_S_BOX, pairs: PAIRS4, p: D_S_P, br: [5000, 1000], yTitle: "ESTIMATEScore", xTitle: "Stage", tc: 547, xt: 468 },
  // Row E
  { geo: [52, 141, 483, 573], cal: [3000, 490, 0, 561], ticks: TK_E3K, cats: AGE_CATS, colors: C2, pts: E_AGE, box: E_AGE_BOX, pairs: PAIRS2, p: E_AGE_P, br: [3070, 0], yTitle: "ImmuneScore", xTitle: "Age", tc: 27, xt: 584 },
  { geo: [172, 270, 485, 573], cal: [6000, 494, 0, 565], ticks: TK_6K, cats: T_CATS, colors: C4, pts: E_T, box: E_T_BOX, pairs: PAIRS4, p: E_T_P, br: [3520, 610], yTitle: "ImmuneScore", xTitle: "T", tc: 146, xt: 584 },
  { geo: [304, 398, 490, 573], cal: [4000, 505, 0, 567], ticks: TK_E4K, cats: N3_CATS, colors: CN3, pts: E_N, box: E_N_BOX, pairs: PAIRS3, p: E_N_P, br: [3760, 505], yTitle: "ImmuneScore", xTitle: "N", tc: 278, xt: 585 },
  { geo: [443, 540, 480, 573], cal: [3000, 498, 0, 561], ticks: TK_E3K, cats: M_CATS, colors: C2, pts: E_M, box: E_M_BOX, pairs: PAIRS2, p: E_M_P, br: [3670, 0], yTitle: "ImmuneScore", xTitle: "M", tc: 417, xt: 588 },
  { geo: [573, 673, 475, 568], cal: [6000, 486, 0, 560], ticks: TK_6K, cats: STAGE_CATS, colors: C4, pts: E_S, box: E_S_BOX, pairs: PAIRS4, p: E_S_P, br: [3500, 605], yTitle: "ImmuneScore", xTitle: "Stage", tc: 547, xt: 583 },
  // Row F
  { geo: [52, 141, 606, 688], cal: [2000, 624, -1000, 684], ticks: TK_2K, cats: AGE_CATS, colors: C2, pts: F_AGE, box: F_AGE_BOX, pairs: PAIRS2, p: F_AGE_P, br: [2450, 0], yTitle: "StromalScore", xTitle: "Age", tc: 26, xt: 698 },
  { geo: [172, 270, 600, 693], cal: [4000, 613, -2000, 692], ticks: TK_4K, cats: T_CATS, colors: C4, pts: F_T, box: F_T_BOX, pairs: PAIRS4, p: F_T_P, br: [2300, 500], yTitle: "StromalScore", xTitle: "T", tc: 144, xt: 703 },
  { geo: [298, 392, 608, 693], cal: [2000, 620, -2000, 692], ticks: TK_F2K, cats: N3_CATS, colors: CN3, pts: F_N, box: F_N_BOX, pairs: PAIRS3, p: F_N_P, br: [1800, 490], yTitle: "StromalScore", xTitle: "N", tc: 270, xt: 704 },
  { geo: [438, 534, 590, 692], cal: [2000, 602, -1000, 671], ticks: TK_2K, cats: M_CATS, colors: C2, pts: F_M, box: F_M_BOX, pairs: PAIRS2, p: F_M_P, br: [1930, 0], yTitle: "StromalScore", xTitle: "M", tc: 410, xt: 706, frame: true },
  { geo: [578, 677, 590, 689], cal: [4000, 603, -2000, 688], ticks: TK_4K, cats: STAGE_CATS, colors: C4, pts: F_S, box: F_S_BOX, pairs: PAIRS4, p: F_S_P, br: [1790, 528], yTitle: "StromalScore", xTitle: "Stage", tc: 550, xt: 702 },
];

const KM_PANELS: any[] = [
  { name: "ESTIMATEScore", p: "0.039", hi: KM_F_EST_HIGH, lo: KM_F_EST_LOW, rh: RT_F_EST_HIGH, rl: RT_F_EST_LOW, geo: [20, 108, 723, 750], rgeo: [20, 108, 765, 776], tc: 5, rtc: 4, xt: 759, rxt: 782, pp: [0.49, 0.33] },
  { name: "ImmuneScore", p: "0.103", hi: KM_F_IMM_HIGH, lo: KM_F_IMM_LOW, rh: RT_F_IMM_HIGH, rl: RT_F_IMM_LOW, geo: [131, 217, 723, 750], rgeo: [131, 217, 765, 776], tc: 118, rtc: 124, xt: 759, rxt: 782, pp: [0.54, 0.37] },
  { name: "StromalScore", p: "0.582", hi: KM_F_STR_HIGH, lo: KM_F_STR_LOW, rh: RT_F_STR_HIGH, rl: RT_F_STR_LOW, geo: [246, 342, 723, 750], rgeo: [246, 342, 765, 776], tc: 235, rtc: 237, xt: 759, rxt: 782, pp: [0.46, 0.44] },
  { name: "ESTIMATEScore", p: "0.128", hi: KM_M_EST_HIGH, lo: KM_M_EST_LOW, rh: RT_M_EST_HIGH, rl: RT_M_EST_LOW, geo: [357, 450, 723, 769], rgeo: [357, 450, 784, 795], tc: 343, rtc: 344, xt: 778, rxt: 802, pp: [0.56, 0.3] },
  { name: "ImmuneScore", p: "0.054", hi: KM_M_IMM_HIGH, lo: KM_M_IMM_LOW, rh: RT_M_IMM_HIGH, rl: RT_M_IMM_LOW, geo: [473, 565, 721, 766], rgeo: [473, 565, 784, 795], tc: 460, rtc: 460, xt: 774, rxt: 802, pp: [0.56, 0.24] },
  { name: "StromalScore", p: "0.281", hi: KM_M_STR_HIGH, lo: KM_M_STR_LOW, rh: RT_M_STR_HIGH, rl: RT_M_STR_LOW, geo: [588, 682, 722, 765], rgeo: [588, 682, 784, 795], tc: 575, rtc: 575, xt: 774, rxt: 802, pp: [0.48, 0.25] },
];

// ---------------- helpers ----------------
const BOX_W = 0.72;
const jit = (g: number, i: number) => {
  const f = ((i + 1) * 0.618034 + g * 0.291) % 1;
  return (f - 0.5) * 0.62;
};
const withAlpha = (hex: string, a: number) => {
  const n = parseInt(hex.slice(1), 16);
  return `rgba(${(n >> 16) & 255},${(n >> 8) & 255},${n & 255},${a})`;
};
const fixBox = (w?: number, h?: number) => (s: any) => {
  if (w !== undefined) s.width = w;
  if (h !== undefined) s.height = h;
  s.paddingLeft = 0;
  s.paddingRight = 0;
  s.paddingTop = 0;
  s.paddingBottom = 0;
};
const axisStyle = (tickLen: number) => ({
  grid: { display: true, drawOnChartArea: false, drawTicks: true, tickLength: tickLen, color: AXIS, lineWidth: 1 },
  border: { display: true, color: AXIS, width: 1 },
});

// Narrow-face look: compress text horizontally along its baseline
function narrowText(canvas: HTMLCanvasElement) {
  const ctx: any = canvas.getContext("2d");
  if (!ctx || ctx.__narrow) return;
  ctx.__narrow = true;
  const ft = ctx.fillText.bind(ctx);
  const mt = ctx.measureText.bind(ctx);
  ctx.fillText = (t: string, x: number, y: number, mw?: number) => {
    ctx.save();
    ctx.translate(x, y);
    ctx.scale(SX, 1);
    if (mw === undefined) ft(t, 0, 0);
    else ft(t, 0, 0, mw / SX);
    ctx.restore();
  };
  ctx.measureText = (t: string) => {
    const m = mt(t);
    return {
      width: m.width * SX,
      actualBoundingBoxAscent: m.actualBoundingBoxAscent,
      actualBoundingBoxDescent: m.actualBoundingBoxDescent,
      actualBoundingBoxLeft: m.actualBoundingBoxLeft * SX,
      actualBoundingBoxRight: m.actualBoundingBoxRight * SX,
      fontBoundingBoxAscent: m.fontBoundingBoxAscent,
      fontBoundingBoxDescent: m.fontBoundingBoxDescent,
    };
  };
}

const PAD_L = 6;
const PAD_R = 12;
const PAD_T = 10;
const YT = 13.5; // y/x title font size
const YT_HALF = (YT * 1.2) / 2;

function boxSpec(p: any) {
  const [L, R, T, B] = p.geo;
  const x = Math.round(p.tc - YT_HALF - PAD_L);
  const yW = L - PAD_L - x;
  const xH = Math.round(p.xt - B + YT_HALF);
  const y = T - PAD_T;
  const w = R - x + PAD_R;
  const h = PAD_T + (B - T) + xH;
  return { x, y, w, h, build: (c: HTMLCanvasElement) => boxChart(c, p, yW, xH) };
}

function boxChart(canvas: HTMLCanvasElement, p: any, yW: number, xH: number) {
  narrowText(canvas);
  const n = p.cats.length;
  const [L, R, T, B] = p.geo;
  const [v1, p1, v2, p2] = p.cal;
  const per = (v1 - v2) / (p2 - p1);
  const yMax = v1 + (p1 - T) * per;
  const yMin = v2 - (B - p2) * per;
  const datasets = p.pts.map((arr: number[], gi: number) => ({
    data: arr.map((v, i) => ({ x: gi + 1 + jit(gi, i), y: v })),
    backgroundColor: withAlpha(p.colors[gi], 0.85),
    borderWidth: 0,
    pointRadius: 1.55,
    pointHoverRadius: 1.55,
  }));
  const overlay = {
    id: "boxOverlay",
    beforeDatasetsDraw(chart: any) {
      const { ctx } = chart;
      const xs = chart.scales.x;
      const ys = chart.scales.y;
      ctx.save();
      p.box.forEach((b: number[], gi: number) => {
        const [lo, q1, md, q3, hi] = b;
        const xc = xs.getPixelForValue(gi + 1);
        const hw = (xs.getPixelForValue(gi + 1 + BOX_W / 2) - xs.getPixelForValue(gi + 1 - BOX_W / 2)) / 2;
        const yq1 = ys.getPixelForValue(q1);
        const yq3 = ys.getPixelForValue(q3);
        ctx.strokeStyle = withAlpha(p.colors[gi], 0.9);
        ctx.lineWidth = 1;
        ctx.fillStyle = "#ffffff";
        ctx.fillRect(xc - hw, yq3, 2 * hw, yq1 - yq3);
        ctx.strokeRect(xc - hw, yq3, 2 * hw, yq1 - yq3);
        ctx.beginPath();
        ctx.moveTo(xc, ys.getPixelForValue(hi));
        ctx.lineTo(xc, yq3);
        ctx.moveTo(xc, yq1);
        ctx.lineTo(xc, ys.getPixelForValue(lo));
        ctx.moveTo(xc - hw, ys.getPixelForValue(md));
        ctx.lineTo(xc + hw, ys.getPixelForValue(md));
        ctx.stroke();
      });
      ctx.restore();
    },
    afterDraw(chart: any) {
      const { ctx, chartArea } = chart;
      const xs = chart.scales.x;
      const ys = chart.scales.y;
      ctx.save();
      ctx.strokeStyle = "#333333";
      ctx.lineWidth = 0.9;
      ctx.fillStyle = INK;
      ctx.font = `8.5px ${FONT}`;
      ctx.textAlign = "center";
      ctx.textBaseline = "bottom";
      p.pairs.forEach((pr: number[], k: number) => {
        const yv = ys.getPixelForValue(p.br[0] + k * p.br[1]);
        const xa = xs.getPixelForValue(pr[0] + 1);
        const xb = xs.getPixelForValue(pr[1] + 1);
        ctx.beginPath();
        ctx.moveTo(xa, yv + 2.5);
        ctx.lineTo(xa, yv);
        ctx.lineTo(xb, yv);
        ctx.lineTo(xb, yv + 2.5);
        ctx.stroke();
        ctx.fillText(p.p[k], (xa + xb) / 2, yv + 0.5);
      });
      if (p.frame) {
        ctx.strokeStyle = AXIS;
        ctx.lineWidth = 1;
        ctx.beginPath();
        ctx.moveTo(chartArea.right, chartArea.top);
        ctx.lineTo(chartArea.right, chartArea.bottom);
        ctx.stroke();
      }
      ctx.restore();
    },
  };
  return new Chart(canvas, {
    type: "scatter",
    data: { datasets },
    options: {
      animation: false,
      responsive: false,
      devicePixelRatio: 1,
      events: [],
      layout: { autoPadding: false, padding: { left: PAD_L, right: PAD_R, top: PAD_T, bottom: 0 } },
      plugins: { legend: { display: false }, tooltip: { enabled: false }, title: { display: false } },
      scales: {
        x: {
          type: "linear",
          min: 0.58,
          max: n + 0.42,
          afterBuildTicks: (s: any) => {
            s.ticks = p.cats.map((_: string, i: number) => ({ value: i + 1 }));
          },
          afterFit: fixBox(undefined, xH),
          ticks: {
            autoSkip: false,
            maxRotation: 0,
            minRotation: 0,
            padding: 0,
            color: INK,
            font: { family: FONT, size: 10 },
            callback: (v: number) => p.cats[Math.round(v) - 1],
          },
          title: { display: true, text: p.xTitle, color: INK, font: { family: FONT, size: YT }, padding: 0 },
          ...axisStyle(2),
        },
        y: {
          type: "linear",
          min: yMin,
          max: yMax,
          afterBuildTicks: (s: any) => {
            s.ticks = p.ticks.map((v: number) => ({ value: v }));
          },
          afterFit: fixBox(yW, undefined),
          ticks: { autoSkip: false, padding: 1, color: INK, font: { family: FONT, size: 9.5 }, callback: (v: number) => String(v) },
          title: { display: true, text: p.yTitle, color: INK, font: { family: FONT, size: YT }, padding: 0 },
          ...axisStyle(2),
        },
      },
    },
    plugins: [overlay],
  } as any);
}

const stepAt = (c: any, t: number) => {
  let v = c.s[0];
  for (let i = 0; i < c.t.length; i++) if (c.t[i] <= t) v = c.s[i];
  return v;
};

function kmSpec(k: any) {
  const [L, R, T, B] = k.geo;
  const pl = 2;
  const pr = 6;
  const pt = 10;
  const x = Math.round(k.tc - 3.3 - pl);
  const yW = L - pl - x;
  const xH = Math.round(k.xt - B + 3.6);
  return { x, y: T - pt, w: R - x + pr, h: pt + (B - T) + xH, build: (c: HTMLCanvasElement) => kmChart(c, k, yW, xH, pl, pr, pt) };
}

function kmChart(canvas: HTMLCanvasElement, k: any, yW: number, xH: number, pl: number, pr: number, pt: number) {
  narrowText(canvas);
  const pts = (c: any, arr: number[]) => c.t.map((t: number, i: number) => ({ x: t, y: arr[i] }));
  const line = (c: any, col: string) => ({ data: pts(c, c.s), borderColor: col, borderWidth: 1, pointRadius: 0, stepped: "before", fill: false });
  const cens = (c: any, col: string) => ({ data: c.cens.map((t: number) => ({ x: t, y: stepAt(c, t) })), showLine: false, pointStyle: "cross", pointRadius: 2, borderColor: col, borderWidth: 0.8, backgroundColor: col });
  const band = (c: any, col: string) => [
    { data: pts(c, c.up), borderWidth: 0, borderColor: "rgba(0,0,0,0)", pointRadius: 0, stepped: "before", fill: "+1", backgroundColor: col },
    { data: pts(c, c.lo), borderWidth: 0, borderColor: "rgba(0,0,0,0)", pointRadius: 0, stepped: "before", fill: false },
  ];
  const datasets = [line(k.hi, HI_C), line(k.lo, LO_C), cens(k.hi, HI_C), cens(k.lo, LO_C), ...band(k.hi, HI_BAND), ...band(k.lo, LO_BAND)];
  const deco = {
    id: "kmDeco",
    afterDraw(chart: any) {
      const { ctx, chartArea: a } = chart;
      ctx.save();
      ctx.font = `7px ${FONT}`;
      ctx.textBaseline = "middle";
      ctx.textAlign = "left";
      ctx.fillStyle = INK;
      let x = a.left + 3;
      const y = a.top - 4;
      ctx.fillText(k.name, x, y);
      x += ctx.measureText(k.name).width + 3;
      [["high", HI_C], ["low", LO_C]].forEach(([lab, col]) => {
        ctx.strokeStyle = col;
        ctx.lineWidth = 1;
        ctx.beginPath();
        ctx.moveTo(x, y);
        ctx.lineTo(x + 6, y);
        ctx.moveTo(x + 3, y - 2.5);
        ctx.lineTo(x + 3, y + 2.5);
        ctx.stroke();
        x += 8;
        ctx.fillStyle = INK;
        ctx.fillText(lab, x, y);
        x += ctx.measureText(lab).width + 4;
      });
      ctx.font = `10px ${FONT}`;
      ctx.textAlign = "center";
      ctx.fillText("p=" + k.p, a.left + k.pp[0] * (a.right - a.left), a.top + k.pp[1] * (a.bottom - a.top));
      ctx.restore();
    },
  };
  return new Chart(canvas, {
    type: "line",
    data: { datasets },
    options: {
      animation: false,
      responsive: false,
      devicePixelRatio: 1,
      events: [],
      layout: { autoPadding: false, padding: { left: pl, right: pr, top: pt, bottom: 0 } },
      plugins: { legend: { display: false }, tooltip: { enabled: false }, filler: { propagate: false } },
      scales: {
        x: {
          type: "linear",
          min: -0.3,
          max: 20.4,
          afterBuildTicks: (s: any) => {
            s.ticks = RT_YEARS.map((v) => ({ value: v }));
          },
          afterFit: fixBox(undefined, xH),
          ticks: { autoSkip: false, maxRotation: 0, padding: 0, color: INK, font: { family: FONT, size: 4 }, callback: (v: number) => String(v) },
          title: { display: true, text: "Time(years)", color: INK, font: { family: FONT, size: 6.5, weight: "bold" }, padding: 0 },
          ...axisStyle(1.5),
        },
        y: {
          type: "linear",
          min: -0.03,
          max: 1.03,
          afterBuildTicks: (s: any) => {
            s.ticks = [0, 0.25, 0.5, 0.75, 1].map((v) => ({ value: v }));
          },
          afterFit: fixBox(yW, undefined),
          ticks: { autoSkip: false, padding: 0.5, color: INK, font: { family: FONT, size: 4.5 }, callback: (v: number) => v.toFixed(2) },
          title: { display: true, text: "Survival probability", color: INK, font: { family: FONT, size: 5.5 }, padding: 0 },
          ...axisStyle(1.5),
        },
      },
    },
    plugins: [deco],
  } as any);
}

function riskSpec(k: any) {
  const [L, R, T, B] = k.rgeo;
  const pl = 2;
  const pr = 6;
  const pt = 4;
  const x = Math.round(k.rtc - 3.3 - pl);
  const yW = L - pl - x;
  const xH = Math.round(k.rxt - B + 3.6);
  return { x, y: T - pt, w: R - x + pr, h: pt + (B - T) + xH, build: (c: HTMLCanvasElement) => riskChart(c, k, yW, xH, pl, pr, pt) };
}

function riskChart(canvas: HTMLCanvasElement, k: any, yW: number, xH: number, pl: number, pr: number, pt: number) {
  narrowText(canvas);
  const nums = {
    id: "riskNums",
    afterDraw(chart: any) {
      const { ctx } = chart;
      const xs = chart.scales.x;
      const ys = chart.scales.y;
      ctx.save();
      ctx.font = `4px ${FONT}`;
      ctx.textAlign = "center";
      ctx.textBaseline = "middle";
      ctx.fillStyle = "#222222";
      RT_YEARS.forEach((yr, i) => {
        ctx.fillText(String(k.rh[i]), xs.getPixelForValue(yr), ys.getPixelForValue(2));
        ctx.fillText(String(k.rl[i]), xs.getPixelForValue(yr), ys.getPixelForValue(1));
      });
      ctx.restore();
    },
  };
  return new Chart(canvas, {
    type: "scatter",
    data: { datasets: [{ data: [] }] },
    options: {
      animation: false,
      responsive: false,
      devicePixelRatio: 1,
      events: [],
      layout: { autoPadding: false, padding: { left: pl, right: pr, top: pt, bottom: 0 } },
      plugins: { legend: { display: false }, tooltip: { enabled: false } },
      scales: {
        x: {
          type: "linear",
          min: -0.3,
          max: 20.4,
          afterBuildTicks: (s: any) => {
            s.ticks = RT_YEARS.map((v) => ({ value: v }));
          },
          afterFit: fixBox(undefined, xH),
          ticks: { autoSkip: false, maxRotation: 0, padding: 0, color: INK, font: { family: FONT, size: 4 }, callback: (v: number) => String(v) },
          title: { display: true, text: "Time(years)", color: INK, font: { family: FONT, size: 6.5, weight: "bold" }, padding: 0 },
          ...axisStyle(1.5),
        },
        y: {
          type: "linear",
          min: 0.4,
          max: 2.6,
          afterBuildTicks: (s: any) => {
            s.ticks = [1, 2].map((v) => ({ value: v }));
          },
          afterFit: fixBox(yW, undefined),
          ticks: {
            autoSkip: false,
            padding: 1,
            font: { family: FONT, size: 6, weight: "bold" },
            color: (c: any) => (c.tick && c.tick.value === 2 ? HI_C : LO_C),
            callback: () => "\u2014",
          },
          title: { display: true, text: k.name, color: INK, font: { family: FONT, size: 5.5 }, padding: 0 },
          ...axisStyle(1.5),
        },
      },
    },
    plugins: [nums],
  } as any);
}

// ---------------- React ----------------
function ChartCanvas({ spec }: { spec: any }) {
  const ref = useRef<HTMLCanvasElement>(null);
  useEffect(() => {
    const chart = spec.build(ref.current as HTMLCanvasElement);
    return () => chart.destroy();
  }, []);
  return (
    <canvas
      ref={ref}
      width={spec.w}
      height={spec.h}
      style={{ position: "absolute", left: spec.x, top: spec.y, width: spec.w, height: spec.h }}
    />
  );
}

const txt = (extra: any) => ({ position: "absolute", fontFamily: FONT, color: INK, whiteSpace: "nowrap", lineHeight: 1, ...extra });

const LETTERS = [
  { t: "A", x: 39, y: 4 },
  { t: "B", x: 39, y: 124 },
  { t: "C", x: 37, y: 238 },
  { t: "D", x: 39, y: 362 },
  { t: "E", x: 39, y: 472 },
  { t: "F", x: 39, y: 592 },
  { t: "G", x: 23, y: 693 },
];

export default function App() {
  const boxSpecs = PANELS.map(boxSpec);
  const kmSpecs = KM_PANELS.map(kmSpec);
  const riskSpecs = KM_PANELS.map(riskSpec);
  return (
    <div style={{ position: "absolute", left: 0, top: 0, width: 685, height: 827, background: "#ffffff", overflow: "hidden" }}>
      {LETTERS.map((l) => (
        <div key={l.t} style={txt({ left: l.x, top: l.y, fontSize: 17, fontWeight: "bold" })}>{l.t}</div>
      ))}
      <div style={{ position: "absolute", left: 17, top: 63, width: 1.5, height: 232, background: "#000" }} />
      <div style={{ position: "absolute", left: 17, top: 410, width: 1.5, height: 232, background: "#000" }} />
      <div style={txt({ left: 9, top: 181, fontSize: 19, transform: "translate(-50%,-50%) rotate(-90deg) scale(0.8,1)" })}>Female</div>
      <div style={txt({ left: 9, top: 528, fontSize: 19, transform: "translate(-50%,-50%) rotate(-90deg) scale(0.8,1)" })}>Male</div>
      <div style={{ position: "absolute", left: 55, top: 812, width: 232, height: 1.5, background: "#000" }} />
      <div style={{ position: "absolute", left: 410, top: 812, width: 232, height: 1.5, background: "#000" }} />
      <div style={txt({ left: 168, top: 821, fontSize: 19, transform: "translate(-50%,-50%) scale(0.8,1)" })}>Female</div>
      <div style={txt({ left: 518, top: 822, fontSize: 19, transform: "translate(-50%,-50%) scale(0.8,1)" })}>Male</div>
      {boxSpecs.map((s, i) => (
        <ChartCanvas key={"b" + i} spec={s} />
      ))}
      {kmSpecs.map((s, i) => (
        <ChartCanvas key={"k" + i} spec={s} />
      ))}
      {riskSpecs.map((s, i) => (
        <ChartCanvas key={"r" + i} spec={s} />
      ))}
    </div>
  );
}
